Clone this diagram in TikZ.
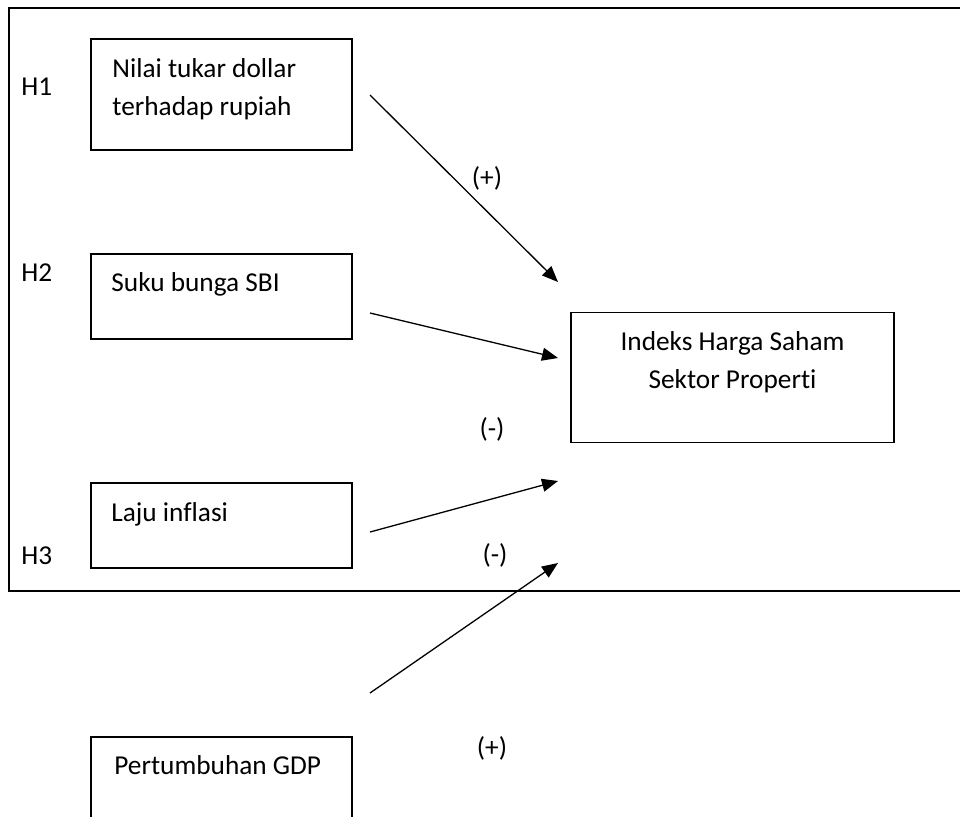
\documentclass[tikz,border=0pt]{standalone}
\usepackage{fontspec}
\setmainfont{Carlito}[RawFeature=-liga]
\usetikzlibrary{arrows.meta}

\begin{document}
\begin{tikzpicture}[x=0.5pt,y=-0.5pt,
    font=\fontsize{13.65}{19}\selectfont,
    box/.style={draw,thick,minimum width=130.5pt,inner sep=0pt},
    txt/.style={anchor=base west,align=left,inner sep=0pt},
    sign/.style={anchor=base,inner sep=0pt},
    panah/.style={line width=0.65pt,-{Triangle[length=8pt,width=6.5pt]}}]
    \clip (0,0) rectangle (960,816);
    %\draw[help lines,line width=0.1pt,blue] (0,0) grid[step=50] (960,816);
    \draw[thick] (9,8) rectangle (990,591);
    % kotak variabel
    \node[box,minimum height=55.5pt] (nilai) at (221.5,94.5) {};
    \node[box,minimum height=42.5pt] (sbi) at (221.5,296.5) {};
    \node[box,minimum height=42.5pt] (inflasi) at (221.5,525.5) {};
    \node[box,minimum height=42.5pt] (gdp) at (221.5,779.5) {};
    \node[box,minimum width=161.5pt,minimum height=65pt] (ihs) at (732.5,377.5) {};
    % teks (base = baris terakhir)
    \node[txt] (nilaitxt) at (112,115) {Nilai tukar dollar\\terhadap rupiah};
    \node[txt] (sbitxt) at (111,291) {Suku bunga SBI};
    \node[txt] (inflasitxt) at (111,521) {Laju inflasi};
    \node[txt] (gdptxt) at (114,774) {Pertumbuhan GDP};
    \node[anchor=base,align=center,inner sep=0pt] (ihstxt) at (732.5,388) {Indeks Harga Saham\\Sektor Properti};
    \node[txt] (h1) at (21,95) {H1};
    \node[txt] (h2) at (21,281) {H2};
    \node[txt] (h3) at (21,564) {H3};
    % ujung panah
    \path (370,95) coordinate (dari1);
    \path (370,313) coordinate (dari2);
    \path (370,532) coordinate (dari3);
    \path (370,693) coordinate (dari4);
    \path (558,282) coordinate (ke1);
    \path (558,358) coordinate (ke2);
    \path (558,481) coordinate (ke3);
    \path (558,563) coordinate (ke4);
    \draw[panah] (dari1)--(ke1);
    \draw[panah] (dari2)--(ke2);
    \draw[panah] (dari3)--(ke3);
    \draw[panah] (dari4)--(ke4);
    \node[sign] (s1) at (487,186) {(+)};
    \node[sign] (s2) at (492,437) {(-)};
    \node[sign] (s3) at (495,563) {(-)};
    \node[sign] (s4) at (492,756) {(+)};
\end{tikzpicture}
\end{document}
